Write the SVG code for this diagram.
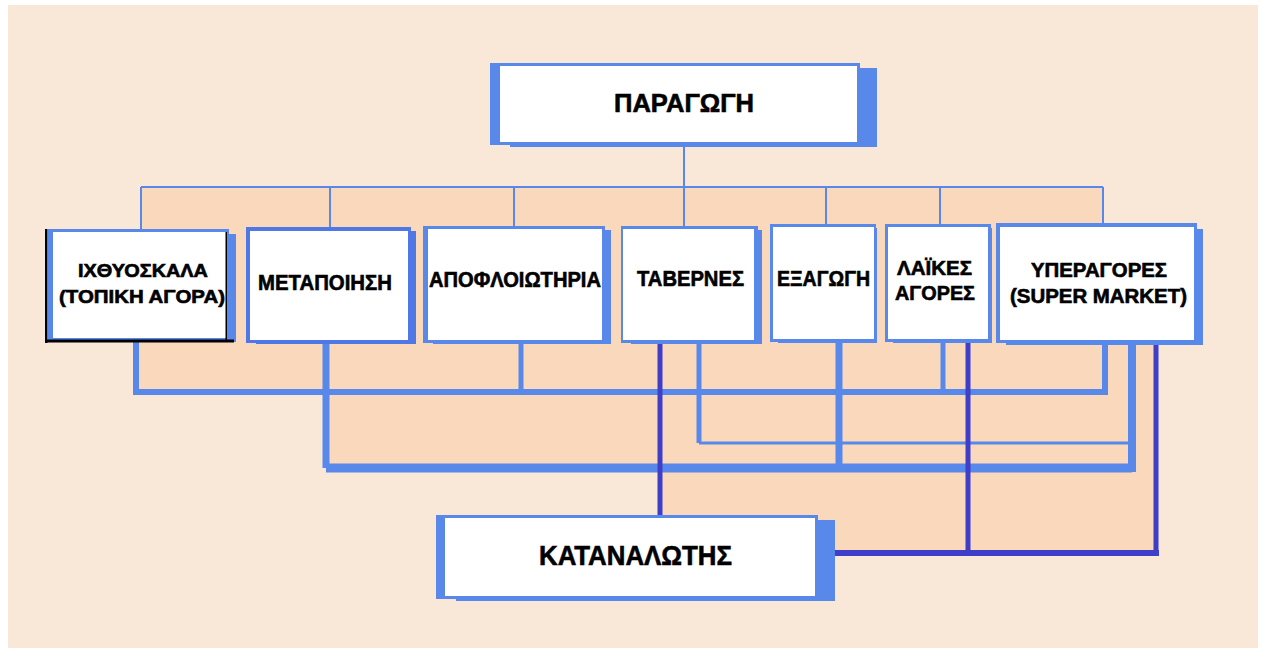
<svg xmlns="http://www.w3.org/2000/svg" width="1263" height="650" viewBox="0 0 1263 650">
<style>
.lbl{font-family:"Liberation Sans",Arial,sans-serif;font-weight:bold;fill:#000;stroke:#000;stroke-width:0.6}
.blue{fill:#5889EA}
.white{fill:#fff}
.thin{stroke:#5889EA;fill:none;stroke-width:2}
.cb{stroke:#5889EA;fill:none}
.cd{stroke:#3E3EC8;fill:none}
</style>
<rect x="0" y="0" width="1263" height="650" fill="#fff"/>
<rect x="8" y="5" width="1250" height="643" fill="#F9E7D8"/>
<polygon points="141,187 1103,187 1103,230 1156,230 1156,553 660,553 660,470 326,470 326,392 136,392 136,230 141,230" fill="#F9D8BC"/>
<g id="connectors">
  <path class="thin" d="M684,147 V187 M141,187 H1103 M141,187 V229 M330,187 V227 M514,187 V226 M684,187 V226 M826,187 V224 M940,187 V224 M1103,187 V223"/>
  <path class="cb" stroke-width="6" d="M136,341 V392 H1105 V345"/>
  <path class="cb" stroke-width="5" d="M521,344 V392 M943,343 V392"/>
  <path class="cb" stroke-width="7" d="M326,344 V468 M839,343 V468"/>
  <path class="cb" stroke-width="9" d="M326,468 H1132"/>
  <path class="cb" stroke-width="8" d="M1132,345 V472"/>
  <path class="cb" stroke-width="5" d="M699,344 V443"/>
  <path class="cb" stroke-width="3" d="M699,443 H1132"/>
  <path class="cd" stroke-width="5" d="M660,344 V518 M968,343 V553 M1156,345 V556"/>
  <path class="cd" stroke-width="6" d="M835,553 H1159"/>
</g>
<g id="n-paragogi">
  <rect class="blue" x="510" y="68" width="367" height="79"/>
  <rect class="blue" x="490" y="63" width="370" height="82"/>
  <rect class="white" x="500" y="66" width="357" height="76"/>
  <text class="lbl" x="614" y="112" font-size="25" textLength="140" lengthAdjust="spacingAndGlyphs">ΠΑΡΑΓΩΓΗ</text>
</g>
<g id="n-ixthyoskala">
  <rect class="blue" x="56" y="234" width="180" height="108"/>
  <rect class="blue" x="48" y="229" width="181" height="112"/>
  <rect class="white" x="53" y="232" width="173" height="106"/>
  <rect x="45" y="229" width="2.5" height="114" fill="#000"/>
  <rect x="47" y="339.5" width="187" height="3" fill="#000"/>
  <rect x="225.5" y="232" width="1.5" height="108" fill="#000"/>
  <text class="lbl" x="78" y="277" font-size="17.5" textLength="130" lengthAdjust="spacingAndGlyphs">ΙΧΘΥΟΣΚΑΛΑ</text>
  <text class="lbl" x="59" y="303" font-size="17.5" textLength="166" lengthAdjust="spacingAndGlyphs">(ΤΟΠΙΚΗ ΑΓΟΡΑ)</text>
</g>
<g id="n-metapoiisi">
  <rect x="256" y="231" width="160" height="113" fill="#5077E6"/>
  <rect x="246" y="227" width="165" height="116" fill="#5077E6"/>
  <rect class="white" x="250" y="231" width="158" height="109"/>
  <text class="lbl" x="258" y="290" font-size="21.5" textLength="134" lengthAdjust="spacingAndGlyphs">ΜΕΤΑΠΟΙΗΣΗ</text>
</g>
<g id="n-apofloiotiria">
  <rect class="blue" x="433" y="230" width="178" height="114"/>
  <rect class="blue" x="423" y="226" width="182" height="117"/>
  <rect class="white" x="428" y="229" width="174" height="111"/>
  <text class="lbl" x="429" y="287" font-size="21.5" textLength="172" lengthAdjust="spacingAndGlyphs">ΑΠΟΦΛΟΙΩΤΗΡΙΑ</text>
</g>
<g id="n-tavernes">
  <rect class="blue" x="631" y="230" width="131" height="114"/>
  <rect class="blue" x="621" y="226" width="137" height="117"/>
  <rect class="white" x="623" y="229" width="131" height="111"/>
  <text class="lbl" x="637" y="286" font-size="21.5" textLength="107" lengthAdjust="spacingAndGlyphs">ΤΑΒΕΡΝΕΣ</text>
</g>
<g id="n-exagogi">
  <rect class="blue" x="778" y="228" width="99" height="115"/>
  <rect class="blue" x="770" y="224" width="106" height="118"/>
  <rect class="white" x="773" y="227" width="101" height="112"/>
  <text class="lbl" x="777" y="286" font-size="21.5" textLength="93" lengthAdjust="spacingAndGlyphs">ΕΞΑΓΩΓΗ</text>
</g>
<g id="n-laikes">
  <rect class="blue" x="893" y="228" width="99" height="115"/>
  <rect class="blue" x="885" y="224" width="106" height="118"/>
  <rect class="white" x="888" y="227" width="100" height="112"/>
  <text class="lbl" x="897" y="275" font-size="20" textLength="75" lengthAdjust="spacingAndGlyphs">ΛΑΪΚΕΣ</text>
  <text class="lbl" x="895" y="300" font-size="20" textLength="80" lengthAdjust="spacingAndGlyphs">ΑΓΟΡΕΣ</text>
</g>
<g id="n-yperagores">
  <rect class="blue" x="1006" y="229" width="197" height="116"/>
  <rect class="blue" x="996" y="223" width="201" height="120"/>
  <rect class="white" x="1000" y="227" width="194" height="113"/>
  <text class="lbl" x="1031" y="277" font-size="19.5" textLength="136" lengthAdjust="spacingAndGlyphs">ΥΠΕΡΑΓΟΡΕΣ</text>
  <text class="lbl" x="1010" y="303" font-size="19.5" textLength="177" lengthAdjust="spacingAndGlyphs">(SUPER MARKET)</text>
</g>
<g id="n-katanalotis">
  <rect class="blue" x="456" y="520" width="379" height="81"/>
  <rect class="blue" x="436" y="515" width="382" height="84"/>
  <rect class="white" x="445" y="518" width="370" height="78"/>
  <text class="lbl" x="539" y="565" font-size="28" textLength="193" lengthAdjust="spacingAndGlyphs">ΚΑΤΑΝΑΛΩΤΗΣ</text>
</g>
</svg>
